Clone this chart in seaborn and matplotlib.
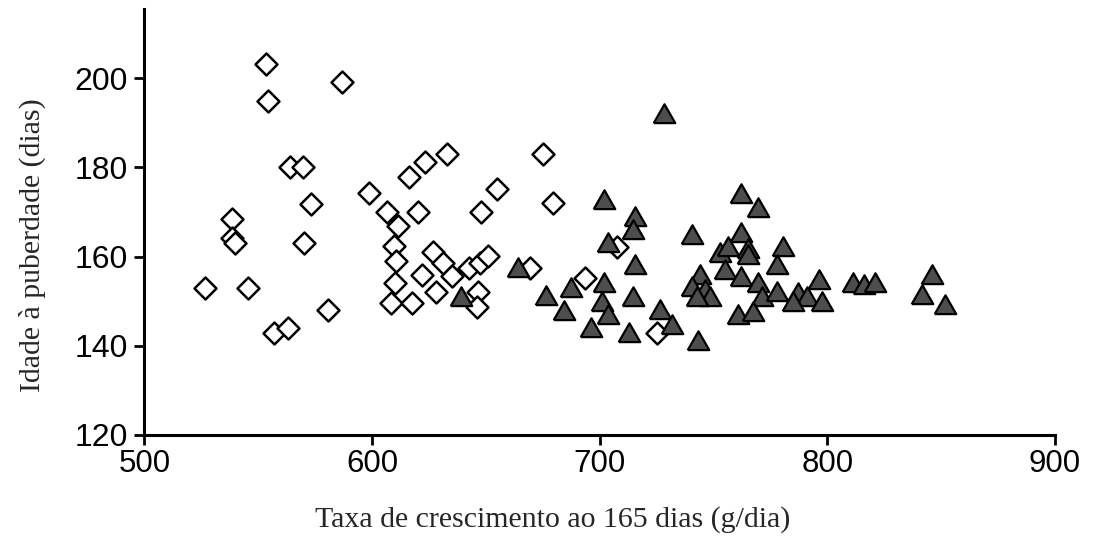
import matplotlib
matplotlib.use("Agg")
import matplotlib.pyplot as plt
import seaborn as sns
import pandas as pd

# Open diamonds
diamond_x = [553.4, 554.3, 586.8, 563.9, 569.5, 573.0, 570.0, 538.4, 538.4, 539.8,
             526.6, 545.5, 556.9, 563.0, 580.6, 598.7, 606.5, 611.4, 616.2, 623.2,
             633.0, 620.2, 609.6, 610.5, 610.0, 608.3, 617.5, 622.0, 626.8, 631.2,
             628.0, 635.0, 642.5, 647.4, 650.9, 646.5, 646.0, 647.8, 654.8, 675.0,
             679.4, 669.3, 693.5, 707.6, 725.2]
diamond_y = [203.2, 194.9, 199.1, 180.1, 180.1, 171.9, 163.0, 168.4, 164.2, 163.0,
             153.0, 153.0, 142.9, 144.0, 148.0, 174.3, 170.0, 166.9, 177.8, 181.2,
             183.0, 170.0, 162.4, 159.0, 154.1, 149.6, 149.6, 155.9, 161.0, 158.6,
             152.1, 155.7, 157.4, 158.6, 160.1, 152.1, 148.7, 170.0, 175.2, 183.0,
             172.0, 157.4, 155.2, 162.2, 142.9]

# Filled triangles
triangle_x = [639.1, 664.1, 676.4, 684.3, 687.4, 701.9, 715.5, 714.6, 703.6, 715.5,
              701.9, 701.0, 703.6, 714.6, 696.2, 712.9, 728.3, 762.1, 769.6, 740.6,
              762.1, 752.9, 756.4, 765.2, 765.2, 780.6, 777.9, 755.0, 762.1, 744.0,
              740.6, 746.3, 748.5, 742.8, 769.6, 771.4, 777.9, 787.1, 791.1, 785.0,
              796.4, 797.7, 760.8, 767.4, 726.5, 731.8, 743.2, 811.3, 816.1, 820.9,
              846.0, 841.6, 851.7]
triangle_y = [150.9, 157.4, 151.2, 147.8, 153.0, 172.7, 168.9, 166.0, 163.0, 158.1,
              154.1, 149.8, 146.9, 150.9, 144.0, 142.9, 192.0, 174.0, 170.9, 164.8,
              165.3, 160.8, 162.2, 161.7, 160.4, 162.2, 158.1, 157.0, 155.4, 155.9,
              153.2, 152.5, 150.9, 150.9, 154.1, 150.9, 152.1, 151.8, 150.9, 149.8,
              154.8, 149.8, 146.9, 147.6, 148.0, 144.7, 141.1, 154.1, 153.6, 154.1,
              155.9, 151.4, 149.1]

x_ticks = [500, 600, 700, 800, 900]
y_ticks = [120, 140, 160, 180, 200]
x_label = "Taxa de crescimento ao 165 dias (g/dia)"
y_label = "Idade à puberdade (dias)"

sns.set_style("ticks")
plt.rcParams['font.family'] = ['Liberation Sans', 'DejaVu Sans']

df_d = pd.DataFrame({"x": diamond_x, "y": diamond_y})
df_t = pd.DataFrame({"x": triangle_x, "y": triangle_y})

fig = plt.figure(figsize=(10.98, 5.47), dpi=100)
ax = fig.add_axes([0.1316, 0.2048, 0.8292, 0.7783])

sns.scatterplot(data=df_d, x="x", y="y", ax=ax, marker="D", s=125,
                facecolor="white", edgecolor="black", linewidth=1.8, zorder=3)
tri = [(-1.0, -0.8), (1.0, -0.8), (0.0, 0.95), (-1.0, -0.8)]
sns.scatterplot(data=df_t, x="x", y="y", ax=ax, marker=tri, s=240,
                color="#4d4d4d", edgecolor="black", linewidth=1.6, zorder=4)

ax.set_xlim(500, 900)
ax.set_ylim(120, 215.5)
ax.set_xticks(x_ticks)
ax.set_yticks(y_ticks)
ax.set_xticklabels([str(v) for v in x_ticks])
ax.set_yticklabels([str(v) for v in y_ticks])
ax.tick_params(axis="both", length=7, width=2, colors="black")
ax.tick_params(axis="x", pad=3, labelsize=22.5)
ax.tick_params(axis="y", pad=5, labelsize=23)
for s in ["top", "right"]:
    ax.spines[s].set_visible(False)
for s in ["left", "bottom"]:
    ax.spines[s].set_linewidth(2.2)
    ax.spines[s].set_color("black")

ax.set_xlabel(x_label, family=["Liberation Serif"], fontsize=21.5)
ax.set_ylabel(y_label, family=["Liberation Serif"], fontsize=21.5)
ax.xaxis.set_label_coords(0.4487, -0.166)
ax.yaxis.set_label_coords(-0.108, 0.446)

fig.savefig("out.png", dpi=100)
